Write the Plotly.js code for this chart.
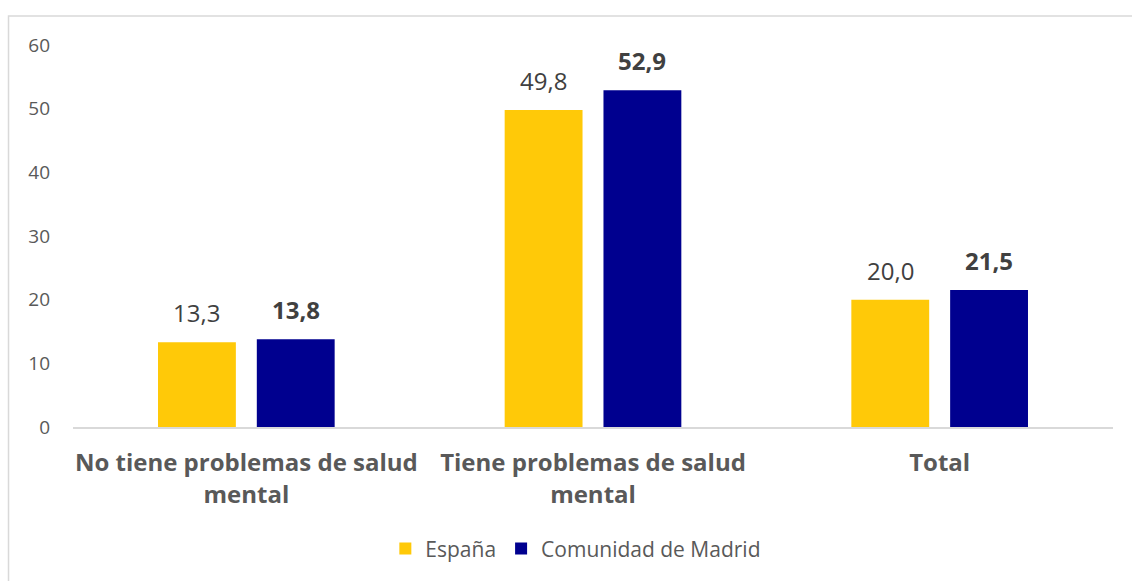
<!DOCTYPE html>
<html>
<head>
<meta charset="utf-8">
<script src="https://cdn.plot.ly/plotly-3.0.1.min.js"></script>
<style>
html,body{margin:0;padding:0;background:#fff;}
#chart{width:1132px;height:581px;}
</style>
</head>
<body>
<div id="chart"></div>
<script>
var categories = ["No tiene problemas de salud<br>mental", "Tiene problemas de salud<br>mental", "Total"];
var espana = [13.3, 49.8, 20.0];
var madrid = [13.8, 52.9, 21.5];
var seriesNames = ["España", "Comunidad de Madrid"];
var yTicks = [0, 10, 20, 30, 40, 50, 60];

var colors = ["#FFC908", "#00008F"];
var FONT = "'Open Sans', 'Noto Sans', sans-serif";

var traces = [
  {type: "bar", name: seriesNames[0], x: categories, y: espana, marker: {color: colors[0]}, hoverinfo: "none"},
  {type: "bar", name: seriesNames[1], x: categories, y: madrid, marker: {color: colors[1]}, hoverinfo: "none"}
];

function fmt(v) { return v.toFixed(1).replace(".", ","); }

var off = 0.1427;
var annotations = [];
categories.forEach(function (c, i) {
  annotations.push({xref: "x", yref: "y", x: i - off, y: espana[i], text: fmt(espana[i]),
    showarrow: false, yanchor: "bottom", yshift: 11, font: {family: FONT, size: 24, color: "#404040"}});
  annotations.push({xref: "x", yref: "y", x: i + off, y: madrid[i], text: "<b>" + fmt(madrid[i]) + "</b>",
    showarrow: false, yanchor: "bottom", yshift: 11, font: {family: FONT, size: 24, color: "#404040"}});
});

var layout = {
  width: 1132, height: 581,
  margin: {l: 73, r: 19, t: 45, b: 154},
  paper_bgcolor: "#fff", plot_bgcolor: "#fff",
  font: {family: FONT, color: "#595959"},
  barmode: "group",
  bargap: 0.43,
  bargroupgap: 0.212,
  showlegend: true,
  legend: {orientation: "h", x: 0.4835, xanchor: "center", y: -0.319, yanchor: "middle",
    font: {family: FONT, size: 21, color: "#595959"}, itemwidth: 30, traceorder: "normal"},
  xaxis: {type: "category", showgrid: false, showline: true, linecolor: "#d9d9d9", linewidth: 1.5,
    ticks: "", ticklabelstandoff: 14, tickfont: {family: FONT, size: 24, color: "#595959", weight: "bold"}, zeroline: false, fixedrange: true},
  yaxis: {range: [0, 60], tickvals: yTicks, ticktext: yTicks.map(String), showgrid: false, showline: false,
    zeroline: false, ticks: "", ticklabelstandoff: 22, tickfont: {family: FONT, size: 19, color: "#595959"}, fixedrange: true},
  annotations: annotations,
  shapes: [{type: "rect", xref: "paper", yref: "paper", x0: -0.062, x1: 2, y0: -2, y1: 1.076,
    line: {color: "#d9d9d9", width: 1.5}, fillcolor: "rgba(0,0,0,0)", layer: "below"}]
};

Plotly.newPlot("chart", traces, layout, {displayModeBar: false, staticPlot: true});
</script>
</body>
</html>
